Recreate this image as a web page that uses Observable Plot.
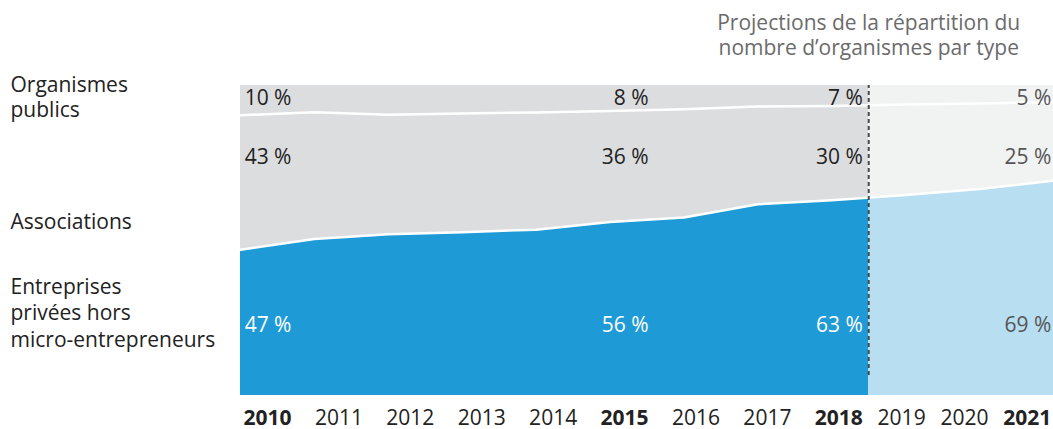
<!DOCTYPE html>
<html>
<head>
<meta charset="utf-8">
<script src="https://cdn.jsdelivr.net/npm/d3@7"></script>
<script src="https://cdn.jsdelivr.net/npm/@observablehq/plot@0.6"></script>
<style>
  html, body { margin: 0; padding: 0; background: #fff; }
  #chart svg { display: block; }
</style>
</head>
<body>
<svg width="0" height="0" style="position:absolute">
  <defs>
    <linearGradient id="gBlue" x1="0" x2="1" y1="0" y2="0"><stop offset="0" stop-color="#1e9ad6"/><stop id="b1" offset="0.77" stop-color="#1e9ad6"/><stop id="b2" offset="0.77" stop-color="#b8def1"/><stop offset="1" stop-color="#b8def1"/></linearGradient>
    <linearGradient id="gGrey" x1="0" x2="1" y1="0" y2="0"><stop offset="0" stop-color="#dcdddf"/><stop id="g1" offset="0.77" stop-color="#dcdddf"/><stop id="g2" offset="0.77" stop-color="#f1f2f2"/><stop offset="1" stop-color="#f1f2f2"/></linearGradient>
  </defs>
</svg>
<div id="chart"></div>
<script>
const years = [2010, 2011, 2012, 2013, 2014, 2015, 2016, 2017, 2018, 2019, 2020, 2021];
const entreprises  = [47, 50.5, 52, 52.7, 53.5, 56, 57.4, 61.7, 63, 64.7, 66.6, 69.3];
const associations = [43.4, 40.9, 38.6, 38.3, 37.8, 35.8, 34.9, 31.5, 30.4, 29.2, 27.6, 25.3];
const publics      = [9.6, 8.6, 9.4, 9.0, 8.7, 8.2, 7.7, 6.8, 6.6, 6.1, 5.8, 5.4];
const labelledYears = [2010, 2015, 2018, 2021];
const projectionStart = 2018.5;
const seriesNames = ["Organismes\npublics", "Associations", "Entreprises\nprivées hors\nmicro-entrepreneurs"];
const title = "Projections de la répartition du\nnombre d’organismes par type";

// gradient split at projection start (fraction of x extent)
const frac = (projectionStart - years[0]) / (years[years.length - 1] - years[0]);
for (const id of ["b1", "b2", "g1", "g2"]) document.getElementById(id).setAttribute("offset", frac);

const table = years.map((year, i) => ({
  year,
  e: entreprises[i], a: associations[i], p: publics[i],
  eTop: entreprises[i],
  aTop: entreprises[i] + associations[i],
  pTop: entreprises[i] + associations[i] + publics[i]
}));
const labelled = table.filter(d => labelledYears.includes(d.year));
const hist = labelled.filter(d => d.year < projectionStart);
const proj = labelled.filter(d => d.year > projectionStart);

// anchor positions (right edge) of the labels for each year
const labelYear = d3.scaleLinear().domain([2010, 2018, 2021]).range([2010.69, 2018.42, 2020.97]);
const pct = v => Math.round(v) + "\u00a0%";
const F = "Open Sans";
const fs = 21;

function valueLabels(data, key, color, anchor, dy) {
  return Plot.text(data, {x: d => labelYear(d.year), text: d => pct(d[key]), frameAnchor: anchor, dy,
    textAnchor: "end", lineAnchor: "middle", fill: color, fontSize: fs, fontFamily: F});
}

const plot = Plot.plot({
  width: 1053, height: 429,
  marginLeft: 240, marginRight: 0, marginTop: 85, marginBottom: 34,
  x: {domain: [years[0], years[years.length - 1]], axis: null},
  y: {domain: [0, 100], axis: null},
  style: {fontFamily: F, background: "white", overflow: "visible"},
  marks: [
    Plot.areaY(table, {x: "year", y1: 0, y2: "eTop", fill: "url(#gBlue)"}),
    Plot.areaY(table, {x: "year", y1: "eTop", y2: "aTop", fill: "url(#gGrey)"}),
    Plot.areaY(table, {x: "year", y1: "aTop", y2: "pTop", fill: "url(#gGrey)"}),
    Plot.line(table, {x: "year", y: "eTop", stroke: "white", strokeWidth: 2.5}),
    Plot.line(table, {x: "year", y: "aTop", stroke: "white", strokeWidth: 2.5}),
    Plot.ruleX([projectionStart], {y1: 0, y2: 100, insetTop: -20, stroke: "#4a4a4a", strokeWidth: 2, strokeDasharray: "4,3"}),
    // value labels
    valueLabels(hist, "p", "#222", "top", 13),
    valueLabels(hist, "a", "#222", "top", 72),
    valueLabels(hist, "e", "white", "bottom", -70),
    valueLabels(proj, "p", "#555", "top", 13),
    valueLabels(proj, "a", "#555", "top", 72),
    valueLabels(proj, "e", "#555", "bottom", -70),
    // x tick labels
    Plot.text(years.filter(y => !labelledYears.includes(y)), {x: d => labelYear(d), text: d => String(d), frameAnchor: "bottom", dy: 23,
      textAnchor: "end", lineAnchor: "middle", fill: "#222", fontSize: fs, fontFamily: F}),
    Plot.text(labelledYears, {x: d => labelYear(d), text: d => String(d), frameAnchor: "bottom", dy: 23,
      textAnchor: "end", lineAnchor: "middle", fill: "#222", fontSize: fs, fontWeight: "bold", fontFamily: F}),
    // series names in left margin
    Plot.text([seriesNames[0]], {frameAnchor: "top-left", dx: -230, dy: 10.5, textAnchor: "start", lineAnchor: "middle",
      lineHeight: 1.19, fill: "#222", fontSize: fs, fontFamily: F}),
    Plot.text([seriesNames[1]], {frameAnchor: "top-left", dx: -230, dy: 137, textAnchor: "start", lineAnchor: "middle",
      fill: "#222", fontSize: fs, fontFamily: F}),
    Plot.text([seriesNames[2]], {frameAnchor: "top-left", dx: -230, dy: 226.5, textAnchor: "start", lineAnchor: "middle",
      lineHeight: 1.26, fill: "#222", fontSize: fs, fontFamily: F}),
    // projection annotation
    Plot.text([{t: title, year: projectionStart}], {x: "year", text: "t", frameAnchor: "top", dy: -51.5, textAnchor: "middle",
      lineAnchor: "middle", lineHeight: 1.19, fill: "#6b6b6b", fontSize: 21, fontFamily: F})
  ]
});
document.getElementById("chart").appendChild(plot);
</script>
</body>
</html>
